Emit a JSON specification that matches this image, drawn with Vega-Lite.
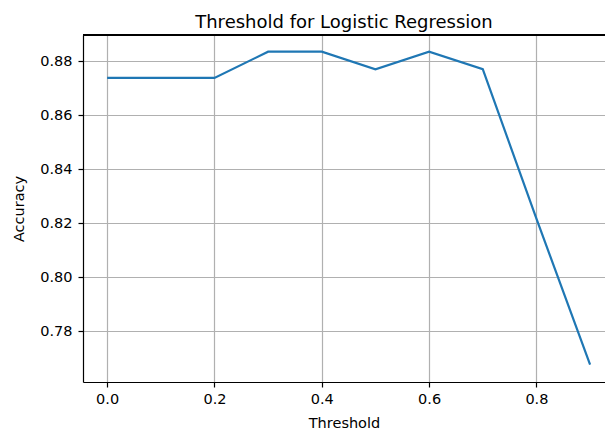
{
  "$schema": "https://vega.github.io/schema/vega-lite/v6.json",
  "autosize": "none",
  "padding": {"left": 83, "top": 35, "right": 0, "bottom": 50},
  "width": 522,
  "height": 347,
  "background": "white",
  "config": {
    "font": "DejaVu Sans",
    "view": {"stroke": null},
    "axis": {
      "domainColor": "black",
      "domainWidth": 1.2,
      "tickColor": "black",
      "tickWidth": 1.2,
      "tickSize": 5,
      "gridColor": "#b0b0b0",
      "gridWidth": 1.2,
      "gridOpacity": 1,
      "labelFont": "DejaVu Sans",
      "labelFontSize": 14.5,
      "labelColor": "black",
      "titleFont": "DejaVu Sans",
      "titleFontSize": 14.5,
      "titleFontWeight": "normal",
      "titleColor": "black"
    }
  },
  "title": {
    "text": "Threshold for Logistic Regression",
    "font": "DejaVu Sans",
    "fontSize": 18,
    "fontWeight": "normal",
    "color": "black",
    "anchor": "middle",
    "offset": 2
  },
  "data": {
    "values": [
      {"threshold": 0.0, "accuracy": 0.8739},
      {"threshold": 0.1, "accuracy": 0.8739},
      {"threshold": 0.2, "accuracy": 0.8739},
      {"threshold": 0.3, "accuracy": 0.8836},
      {"threshold": 0.4, "accuracy": 0.8836},
      {"threshold": 0.5, "accuracy": 0.8771},
      {"threshold": 0.6, "accuracy": 0.8836},
      {"threshold": 0.7, "accuracy": 0.8771},
      {"threshold": 0.8, "accuracy": 0.8217},
      {"threshold": 0.9, "accuracy": 0.7675}
    ]
  },
  "encoding": {
    "x": {
      "field": "threshold",
      "type": "quantitative",
      "scale": {"domain": [-0.045, 0.9278], "nice": false, "zero": false},
      "axis": {
        "title": "Threshold",
        "values": [0, 0.2, 0.4, 0.6, 0.8],
        "format": ".1f",
        "labelPadding": 5,
        "titlePadding": 11
      }
    },
    "y": {
      "field": "accuracy",
      "type": "quantitative",
      "scale": {"domain": [0.7611, 0.8898], "nice": false, "zero": false},
      "axis": {
        "title": "Accuracy",
        "values": [0.78, 0.8, 0.82, 0.84, 0.86, 0.88],
        "format": ".2f",
        "labelPadding": 6,
        "titlePadding": 13
      }
    }
  },
  "layer": [
    {
      "mark": {"type": "line", "color": "#1f77b4", "strokeWidth": 2.2, "clip": true}
    },
    {
      "mark": {"type": "rule", "color": "black", "strokeWidth": 1.2},
      "encoding": {
        "x": {"datum": -0.045},
        "x2": {"datum": 0.9278},
        "y": {"datum": 0.8898}
      }
    }
  ]
}
